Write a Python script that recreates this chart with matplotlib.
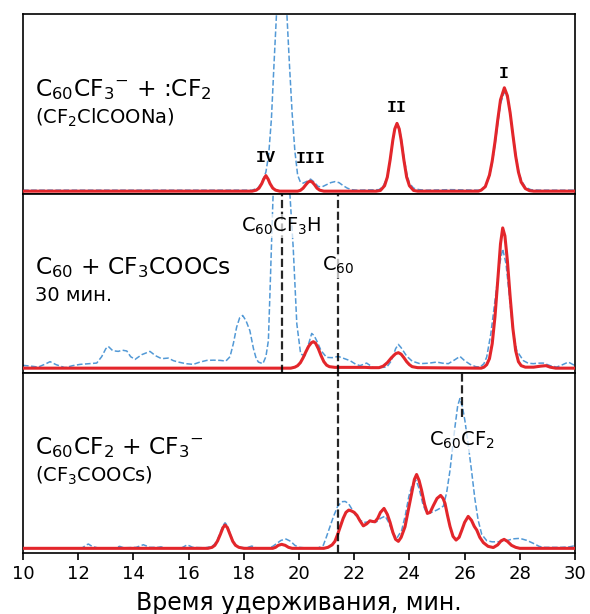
import numpy as np
import matplotlib
matplotlib.use("Agg")
import matplotlib.pyplot as plt

# retention time (min) / detector signal (arb. units)
top_red_t = [10.0, 18.3, 18.45, 18.55, 18.65, 18.72, 18.8, 18.88, 18.95, 19.05, 19.15, 19.3,
             19.95, 20.05, 20.15, 20.25, 20.33, 20.4, 20.48, 20.56, 20.65, 20.75, 20.9,
             22.8, 22.95, 23.1, 23.2, 23.3, 23.4, 23.47, 23.55, 23.63, 23.7, 23.8, 23.9, 24.0, 24.15, 24.3,
             26.5, 26.6, 26.75, 26.9, 27.0, 27.1, 27.2, 27.3, 27.44, 27.55, 27.65, 27.75, 27.85,
             27.95, 28.05, 28.2, 28.35, 28.5, 30.0]
top_red_y = [0, 0, 1, 3, 7.5, 12, 15.5, 12, 7.5, 3, 1, 0,
             0, 0.8, 3, 6.5, 9, 10, 9, 6.5, 3, 1, 0,
             0, 0.7, 5.4, 14, 31, 51, 62, 67.5, 62, 51, 31, 14, 5.4, 0.7, 0,
             0, 1, 4.5, 16, 30, 49, 71, 91, 103, 95, 78, 56, 35,
             19, 9, 2.6, 0.5, 0, 0]

top_blue_t = [10.0, 18.3, 18.5, 18.65, 18.8, 18.9, 19.0, 19.1, 19.2, 19.3, 19.36, 19.45, 19.55,
              19.65, 19.75, 19.85, 19.95, 20.05, 20.15, 20.3, 20.42, 20.55, 20.7, 20.85, 21.0,
              21.15, 21.3, 21.45, 21.6, 21.75, 21.9, 22.1, 22.9, 23.05, 23.2, 23.3, 23.4, 23.47,
              23.55, 23.63, 23.7, 23.8, 23.9, 24.0, 24.15, 24.35, 24.6, 25.5, 26.5, 26.6, 26.75,
              26.9, 27.0, 27.1, 27.2, 27.3, 27.44, 27.55, 27.65, 27.75, 27.85, 27.95, 28.05,
              28.2, 28.4, 28.7, 30.0]
top_blue_y = [1, 1, 3, 8, 19, 36, 72, 130, 185, 225, 233, 222, 182,
              128, 78, 40, 16, 9, 8, 10, 12, 9, 4.5, 4.5, 6.5,
              8.5, 9.5, 8.5, 5.5, 3, 1.5, 1, 1.5, 5, 14, 30, 50, 62,
              68, 63, 53, 34, 18, 8, 3, 1.5, 1, 1.5, 1, 1.5, 4.5,
              15, 28, 46, 67, 87, 99, 93, 78, 57, 37, 21, 11,
              4, 1.5, 1, 1]

mid_red_t = [10.0, 19.7, 19.85, 19.95, 20.05, 20.15, 20.25, 20.35, 20.45, 20.52, 20.6, 20.7,
             20.8, 20.9, 21.0, 21.1, 21.3, 22.4, 22.6, 22.9, 23.05, 23.2, 23.35, 23.5, 23.6,
             23.7, 23.8, 23.9, 24.0, 24.1, 24.3, 26.6, 26.7, 26.8, 26.9, 27.0, 27.1, 27.2,
             27.3, 27.38, 27.46, 27.55, 27.65, 27.75, 27.85, 27.95, 28.05, 28.2, 28.5, 28.75,
             28.95, 29.1, 29.3, 30.0]
mid_red_y = [0.5, 0.5, 1.5, 3, 6, 11, 17, 22.5, 26, 27, 25.5, 20,
             13, 7, 3.5, 2, 1.3, 1.3, 1, 1, 2.5, 6, 11, 15, 16,
             14.5, 11, 7, 4, 2, 1, 0.5, 1.5, 4, 10, 25, 52, 88,
             125, 141, 133, 108, 72, 40, 18, 7, 3, 1.5, 1.5, 2.5,
             3, 1.5, 0.5, 0.5]

mid_blue_t = [10.0, 10.3, 10.55, 10.8, 10.98, 11.2, 11.52, 11.8, 12.07, 12.4, 12.67, 12.85,
              13.0, 13.09, 13.25, 13.45, 13.6, 13.76, 13.9, 14.06, 14.3, 14.6, 14.8, 15.02,
              15.26, 15.45, 15.63, 15.9, 16.17, 16.4, 16.66, 16.9, 17.14, 17.35, 17.5, 17.62,
              17.74, 17.85, 17.96, 18.08, 18.22, 18.35, 18.45, 18.53, 18.69, 18.8, 18.89, 18.95,
              19.05, 19.15, 19.3, 19.4, 19.5, 19.6, 19.67, 19.79, 19.92, 20.06, 20.22, 20.35,
              20.46, 20.55, 20.64, 20.8, 21.0, 21.2, 21.42, 21.65, 21.85, 22.05, 22.21, 22.45,
              22.69, 22.9, 23.18, 23.35, 23.5, 23.6, 23.7, 23.9, 24.1, 24.38, 24.7, 24.99,
              25.2, 25.41, 25.65, 25.83, 26.0, 26.2, 26.4, 26.56, 26.7, 26.8, 26.95, 27.1,
              27.25, 27.38, 27.5, 27.64, 27.75, 27.89, 28.13, 28.3, 28.49, 28.65, 28.85, 29.1,
              29.34, 29.55, 29.76, 30.0]
mid_blue_y = [3.3, 2.5, 1.6, 4.5, 7, 4, 1, 3, 4.3, 5, 5.6, 12,
              20, 22.3, 18, 17.3, 18.5, 17.7, 12, 9.3, 14, 17.3, 13, 10,
              10.6, 8, 6.6, 5, 4.3, 6.5, 8.3, 8.5, 8.3, 7.6, 12, 25,
              41.6, 51, 53.3, 48, 38, 20, 10, 6.6, 5, 12, 28, 78,
              165, 245, 300, 305, 280, 215, 175, 121, 45, 14.6, 13, 25,
              35.3, 33, 28, 18, 11.3, 11, 12.3, 10, 8, 4.5, 3, 5.6,
              1, 1, 1.6, 8, 20, 24.3, 21, 12.6, 7.5, 5, 5.5, 6.6,
              5.5, 5, 9, 12.3, 8, 4.3, 2, 1.6, 5, 11.6, 35, 68,
              102, 120, 105, 68, 38, 18, 8, 5.5, 5, 5.5, 5.6, 3,
              1.6, 4, 6.6, 3]

bot_red_t = [10.0, 16.7, 16.85, 16.95, 17.05, 17.15, 17.25, 17.32, 17.4, 17.5, 17.6, 17.7,
             17.82, 18.0, 19.05, 19.15, 19.25, 19.37, 19.5, 19.62, 19.75, 20.9, 21.05, 21.2,
             21.3, 21.4, 21.5, 21.6, 21.7, 21.8, 21.9, 22.0, 22.1, 22.2, 22.33, 22.45, 22.57,
             22.65, 22.75, 22.85, 22.95, 23.08, 23.2, 23.3, 23.4, 23.5, 23.6, 23.7, 23.84,
             23.95, 24.08, 24.18, 24.26, 24.35, 24.44, 24.55, 24.65, 24.75, 24.87, 25.0, 25.13,
             25.22, 25.29, 25.38, 25.47, 25.58, 25.69, 25.8, 25.9, 26.0, 26.13, 26.25, 26.35,
             26.44, 26.55, 26.68, 26.85, 27.04, 27.2, 27.32, 27.43, 27.55, 27.7, 27.85, 28.0, 30.0]
bot_red_y = [0, 0, 1, 3, 7.5, 14, 21, 23.3, 21, 14, 7, 3,
             1, 0, 0, 1, 3, 4, 3, 1, 0, 0, 1, 3.5,
             7, 14, 22, 30, 36, 38.3, 37.5, 36, 33, 28, 22.5, 24.5, 27.6,
             27, 26.6, 30, 36, 40, 34, 26, 16, 9, 7, 11, 21.6,
             37, 55, 69, 74, 68, 58.3, 44, 35, 36, 43, 50, 53,
             50, 45, 33, 22, 12, 8.3, 11, 18.3, 26, 32, 28, 22,
             18.3, 11, 5.7, 2, 0.8, 3.5, 7.5, 9, 7, 3, 1, 0, 0]

bot_blue_t = [10.0, 12.15, 12.3, 12.37, 12.5, 12.7, 13.35, 13.5, 13.65, 14.1, 14.36, 14.6,
              14.9, 15.0, 15.1, 15.75, 15.95, 16.15, 16.6, 16.85, 16.95, 17.05, 17.15, 17.25,
              17.32, 17.4, 17.5, 17.6, 17.7, 17.85, 18.1, 18.29, 18.45, 18.9, 19.05, 19.2,
              19.35, 19.53, 19.7, 19.85, 20.0, 20.2, 20.7, 20.88, 21.0, 21.12, 21.25, 21.4,
              21.55, 21.67, 21.79, 21.9, 22.05, 22.21, 22.35, 22.57, 22.81, 22.95, 23.12, 23.25,
              23.4, 23.54, 23.72, 23.85, 23.98, 24.1, 24.24, 24.35, 24.5, 24.63, 24.8, 24.99,
              25.1, 25.23, 25.35, 25.47, 25.56, 25.65, 25.75, 25.83, 25.92, 26.01, 26.12, 26.25,
              26.37, 26.49, 26.62, 26.8, 27.0, 27.28, 27.5, 27.75, 28.0, 28.25, 28.49, 28.7,
              28.85, 29.5, 29.8, 29.94, 30.0]
bot_blue_y = [0.5, 0.5, 3.5, 4.3, 2, 0.5, 0.5, 2, 0.5, 1, 3.6, 1,
              1, 1.5, 0.5, 0.5, 3.5, 1, 0.5, 2, 4.5, 9, 16, 23,
              25.6, 23, 15, 8, 3.5, 1, 0.5, 2.3, 0.5, 0.5, 2, 5,
              8, 9.3, 7, 3, 1, 0.5, 0.5, 3, 12, 21.6, 32, 42,
              46.7, 47, 45, 40, 33, 28.3, 26, 26.6, 26.6, 30, 32.3, 26,
              15, 10, 18, 33, 52, 64, 68.3, 60, 43, 35, 36, 38.3,
              40, 42.3, 56, 78, 100, 121.6, 143, 150, 142, 128, 106, 78,
              50, 28.3, 14, 7.7, 6.5, 6.7, 7.5, 9.5, 10, 8, 5, 2,
              1, 1, 1.5, 2.3, 2]

panel_titles = [r"C$_{60}$CF$_3$$^{-}$ + :CF$_2$", r"C$_{60}$ + CF$_3$COOCs", r"C$_{60}$CF$_2$ + CF$_3$$^{-}$"]
panel_notes = [r"(CF$_2$ClCOONa)", "30 мин.", r"(CF$_3$COOCs)"]

peak_names = ["IV", "III", "II", "I"]
peak_t = [18.8, 20.43, 23.54, 27.43]
peak_y = [33.5, 32.5, 83.5, 117.5]

marker_names = [r"C$_{60}$CF$_3$H", r"C$_{60}$", r"C$_{60}$CF$_2$"]
marker_t = [19.37, 21.42, 25.9]
marker_y = [143, 103, 108]

red = "#e3262b"
blue = "#5299d6"

fig = plt.figure(figsize=(5.9, 6.14), dpi=100)
axes = fig.subplots(3, 1, sharex=True)
fig.subplots_adjust(left=0.039, right=0.9746, top=0.9772, bottom=0.0993, hspace=0)

data = [(top_blue_t, top_blue_y, top_red_t, top_red_y),
        (mid_blue_t, mid_blue_y, mid_red_t, mid_red_y),
        (bot_blue_t, bot_blue_y, bot_red_t, bot_red_y)]
ylims = [(-2.5, 176.5), (-4.7, 175.3), (-4.7, 175.3)]

for i, ax in enumerate(axes):
    bt, by, rt, ry = data[i]
    ax.plot(bt, by, color=blue, lw=1.1, ls="--", zorder=2)
    ax.plot(rt, ry, color=red, lw=2.2, zorder=3)
    ax.set_ylim(*ylims[i])
    ax.set_yticks([])
    ax.text(10.43, 101, panel_titles[i], fontsize=16.8, ha="left", va="center")
    ax.text(10.43, 73, panel_notes[i], fontsize=14, ha="left", va="center")
    for s in ax.spines.values():
        s.set_linewidth(1.2)
    if i < 2:
        ax.tick_params(axis="x", bottom=False)

for name, t, y in zip(peak_names, peak_t, peak_y):
    axes[0].text(t, y, name, fontsize=12, family="Liberation Mono", weight="bold",
                 ha="center", va="center")

# vertical markers for reference compounds
axes[1].axvline(marker_t[0], color="k", ls="--", lw=1.6, alpha=0.85, zorder=4)
axes[1].axvline(marker_t[1], color="k", ls="--", lw=1.6, alpha=0.85, zorder=4)
axes[2].axvline(marker_t[1], color="k", ls="--", lw=1.6, alpha=0.85, zorder=4)
axes[2].axvline(marker_t[2], ymin=0.755, ymax=1.0, color="k", ls="--", lw=1.6, alpha=0.85, zorder=4)

label_axes = [axes[1], axes[1], axes[2]]
for ax, name, t, y in zip(label_axes, marker_names, marker_t, marker_y):
    ax.text(t, y, name, fontsize=14, ha="center", va="center", zorder=5,
            bbox=dict(facecolor="white", edgecolor="none", alpha=0.7, pad=1))

axes[2].set_xlim(10, 30)
axes[2].set_xticks(np.arange(10, 31, 2))
axes[2].tick_params(axis="x", labelsize=13, length=5, width=1.2)
axes[2].set_xlabel("Время удерживания, мин.", fontsize=17, labelpad=6)

fig.savefig("out.png", dpi=100)
